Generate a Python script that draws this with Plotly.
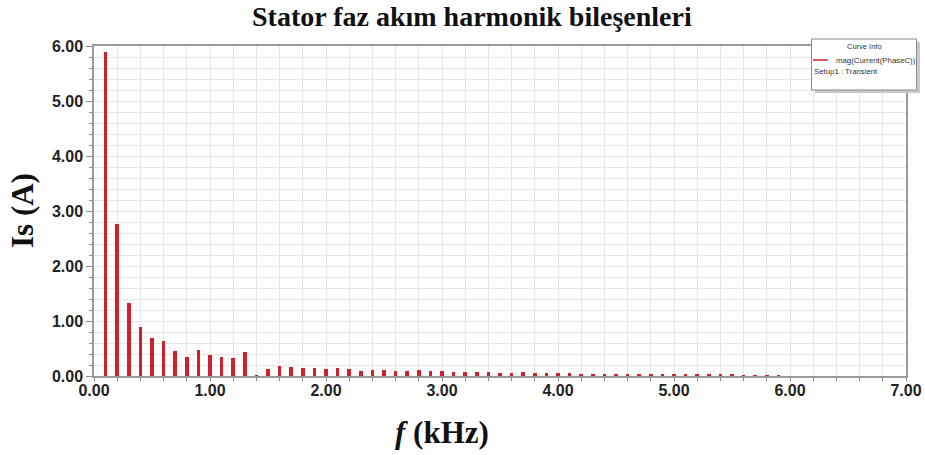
import plotly.graph_objects as go

# harmonic frequencies (kHz) and magnitudes (A)
freq_khz = [0.1, 0.2, 0.3, 0.4, 0.5, 0.6, 0.7, 0.8, 0.9, 1.0,
            1.1, 1.2, 1.3, 1.4, 1.5, 1.6, 1.7, 1.8, 1.9, 2.0,
            2.1, 2.2, 2.3, 2.4, 2.5, 2.6, 2.7, 2.8, 2.9, 3.0,
            3.1, 3.2, 3.3, 3.4, 3.5, 3.6, 3.7, 3.8, 3.9, 4.0,
            4.1, 4.2, 4.3, 4.4, 4.5, 4.6, 4.7, 4.8, 4.9, 5.0,
            5.1, 5.2, 5.3, 5.4, 5.5, 5.6, 5.7, 5.8, 5.9]
current_a = [5.90, 2.76, 1.33, 0.90, 0.69, 0.63, 0.46, 0.35, 0.47, 0.39,
             0.35, 0.33, 0.43, 0.01, 0.13, 0.18, 0.16, 0.15, 0.14, 0.12,
             0.15, 0.13, 0.10, 0.11, 0.11, 0.10, 0.10, 0.11, 0.09, 0.09,
             0.07, 0.07, 0.07, 0.075, 0.055, 0.06, 0.065, 0.06, 0.055, 0.05,
             0.05, 0.045, 0.045, 0.04, 0.04, 0.04, 0.04, 0.04, 0.035, 0.03,
             0.025, 0.025, 0.02, 0.02, 0.02, 0.015, 0.015, 0.012, 0.01]

x_ticks = [0, 1, 2, 3, 4, 5, 6, 7]
y_ticks = [0, 1, 2, 3, 4, 5, 6]

title_text = "Stator faz akım harmonik bileşenleri"
legend_title = "Curve Info"
legend_series = "mag(Current(PhaseC))"
legend_setup = "Setup1 : Transient"

RED = "#d0202e"
W, H = 925, 455
L, R, T, B = 94, 19, 46, 79
pw, ph = W - L - R, H - T - B


def px(x):
    return (x - L) / pw


def py(y):
    return (H - B - y) / ph


fig = go.Figure()
fig.add_trace(go.Bar(x=freq_khz, y=current_a, width=0.032,
                     marker=dict(color=RED, line=dict(width=0)),
                     showlegend=False))

axis_common = dict(
    showline=True, linecolor="#9a9a9a", linewidth=1.5, mirror=True,
    showgrid=True, gridcolor="#e6e6e6", gridwidth=1,
    ticks="outside", tickcolor="#8a8a8a", tickwidth=1,
    tickformat=".2f", zeroline=False, automargin=False,
    tickfont=dict(family="Liberation Sans", size=16, color="#222222", weight="bold"),
)

fig.update_xaxes(range=[0, 7], tickvals=x_ticks, ticklen=3, ticklabelstandoff=-4,
                 minor=dict(dtick=0.2, showgrid=True, gridcolor="#e6e6e6",
                            ticks="outside", ticklen=3, tickcolor="#8a8a8a"),
                 **axis_common)
fig.update_yaxes(range=[0, 6], tickvals=y_ticks, ticklen=6,
                 minor=dict(dtick=0.2, showgrid=True, gridcolor="#e6e6e6",
                            ticks="outside", ticklen=3, tickcolor="#8a8a8a"),
                 **axis_common)

annotations = [
    dict(text=title_text, xref="paper", yref="paper", x=px(472), y=py(17),
         showarrow=False, xanchor="center", yanchor="middle",
         font=dict(family="Liberation Serif", size=28, color="#111111", weight="bold")),
    dict(text="<i>f</i> (kHz)", xref="paper", yref="paper", x=px(442), y=py(432),
         showarrow=False, xanchor="center", yanchor="middle",
         font=dict(family="Liberation Serif", size=31, color="#111111", weight="bold")),
    dict(text="Is (A)", xref="paper", yref="paper", x=px(22), y=py(211),
         showarrow=False, xanchor="center", yanchor="middle", textangle=-90,
         font=dict(family="Liberation Serif", size=31, color="#111111", weight="bold")),
    dict(text=legend_title, xref="paper", yref="paper", x=px(864), y=py(46),
         showarrow=False, xanchor="center", yanchor="middle",
         font=dict(family="Liberation Sans", size=7.5, color="#333333")),
    dict(text=legend_series, xref="paper", yref="paper", x=px(834), y=py(60),
         showarrow=False, xanchor="left", yanchor="middle",
         font=dict(family="Liberation Sans", size=7.8, color="#333333")),
    dict(text=legend_setup, xref="paper", yref="paper", x=px(812), y=py(72),
         showarrow=False, xanchor="left", yanchor="middle",
         font=dict(family="Liberation Sans", size=7.8, color="#333333")),
]

shapes = [
    # legend shadow
    dict(type="rect", xref="paper", yref="paper", x0=px(815), x1=px(920),
         y0=py(93), y1=py(42), fillcolor="#c8c8c8", line=dict(width=0), layer="above"),
    # legend box
    dict(type="rect", xref="paper", yref="paper", x0=px(811.5), x1=px(916.5),
         y0=py(90), y1=py(39), fillcolor="white",
         line=dict(color="#8a8a8a", width=1), layer="above"),
    # legend line sample
    dict(type="line", xref="paper", yref="paper", x0=px(813), x1=px(828),
         y0=py(60), y1=py(60), line=dict(color=RED, width=1.5), layer="above"),
]

fig.update_layout(
    width=W, height=H, margin=dict(l=L, r=R, t=T, b=B, autoexpand=False),
    paper_bgcolor="white", plot_bgcolor="white",
    bargap=0, annotations=annotations, shapes=shapes,
    showlegend=False,
)

fig.write_html("out.html")
